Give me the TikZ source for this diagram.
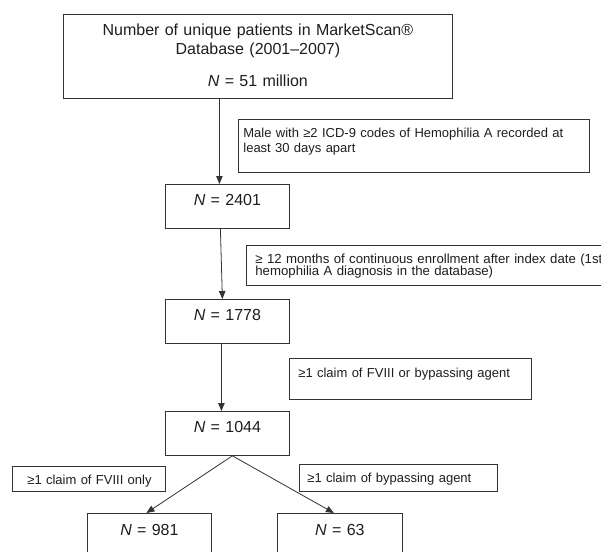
\documentclass[tikz,border=0pt]{standalone}
\usepackage{fontspec}
\setmainfont{Liberation Sans}
\usepackage{xcolor}
\usetikzlibrary{arrows.meta}
\definecolor{lineGray}{HTML}{333333}
\definecolor{inkBlack}{HTML}{1E1E1E}
\tikzset{
  countbox/.style={draw=lineGray, line width=0.8pt, anchor=north west, inner xsep=0pt, inner ysep=0pt,
    text=inkBlack, font=\fontsize{16}{19}\selectfont, align=center, text height=21pt, text depth=23pt},
  rulebox/.style={draw=lineGray, line width=0.8pt, anchor=north west, inner xsep=8pt, inner ysep=0pt,
    text=inkBlack, font=\fontsize{13}{15}\selectfont, align=left, text height=18pt},
  flowarrow/.style={draw=lineGray, line width=0.8pt, -{Triangle[length=8pt, width=6.5pt]}}
}

\begin{document}
\begin{tikzpicture}[x=1pt, y=-1pt]
  \clip (0,0) rectangle (601,551);
  \fill[white] (0,0) rectangle (601,551);

  % counts down the left
  \node[countbox, text width=389pt, text depth=63pt] (nTotal) at (63,14)
    {Number of unique patients in MarketScan®\\Database (2001--2007)\\[13pt]\textit{N} = 51 million};
  \node[countbox, text width=124pt] (n2401) at (165,184) {\textit{N} = 2401};
  \node[countbox, text width=124pt] (n1778) at (165,299) {\textit{N} = 1778};
  \node[countbox, text width=124pt] (n1044) at (165,411) {\textit{N} = 1044};
  \node[countbox, text width=124pt, text height=22pt, text depth=30pt] (n981) at (87,513) {\textit{N} = 981};
  \node[countbox, text width=125pt, text height=22pt, text depth=30pt] (n63) at (277,513) {\textit{N} = 63};

  % selection rules
  \node[rulebox, inner xsep=5pt, text width=341pt, text depth=35pt] (ruleMale) at (238,119)
    {Male with ≥2 ICD-9 codes of Hemophilia A recorded at\\least 30 days apart};
  \node[rulebox, inner xsep=9pt, text width=356pt, text height=18pt, text depth=22pt,
    font=\fontsize{13.2}{12.5}\selectfont] (ruleEnroll) at (246,245)
    {≥ 12 months of continuous enrollment after index date (1st\\hemophilia A diagnosis in the database)};
  \node[rulebox, inner xsep=9pt, text width=224pt, text height=19pt, text depth=22pt] (ruleClaim) at (289,358)
    {≥1 claim of FVIII or bypassing agent};
  \node[rulebox, inner xsep=15pt, text width=123pt, text height=18pt, text depth=7pt] (ruleFVIII) at (12,466)
    {\mbox{≥1 claim of FVIII only}};
  \node[rulebox, inner xsep=8pt, text width=182pt, text height=18pt, text depth=9pt] (ruleBypass) at (299,464)
    {≥1 claim of bypassing agent};

  % arrows
  \coordinate (a1) at ([xshift=-8pt]n2401.north);
  \draw[flowarrow] (nTotal.south -| a1) -- (a1);
  \draw[flowarrow] ([xshift=-7pt]n2401.south) -- ([xshift=-5pt]n1778.north);
  \draw[flowarrow] ([xshift=-6pt]n1778.south) -- ([xshift=-6pt]n1044.north);
  \coordinate (split) at ([xshift=5pt]n1044.south);
  \draw[flowarrow] (split) -- ([xshift=-3pt]n981.north);
  \draw[flowarrow] (split) -- ([xshift=-6pt]n63.north);
\end{tikzpicture}
\end{document}
